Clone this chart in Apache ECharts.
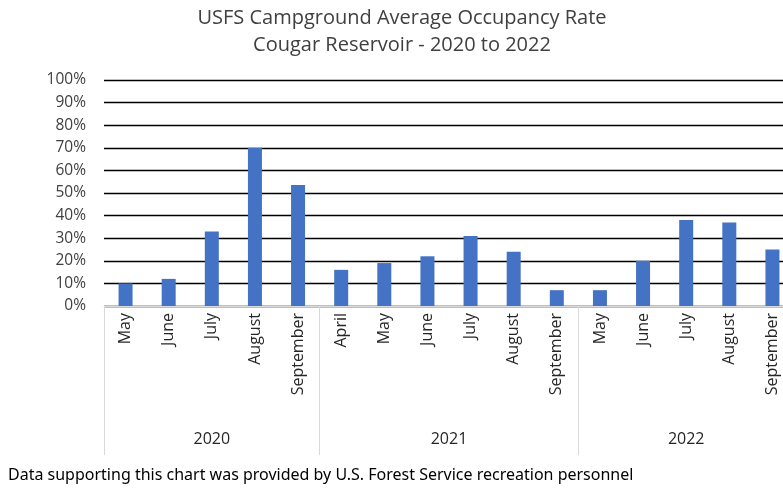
<!DOCTYPE html>
<html>
<head>
<meta charset="utf-8">
<script src="https://cdn.jsdelivr.net/npm/echarts@6/dist/echarts.min.js"></script>
<style>html,body{margin:0;padding:0;background:#fff;overflow:hidden}#c{width:800px;height:489px}</style>
</head>
<body>
<div id="c"></div>
<script>
const months = ['May','June','July','August','September','April','May','June','July','August','September','May','June','July','August','September'];
const occupancy = [10, 12, 33, 70, 53.5, 16, 19, 22, 31, 24, 7, 7, 20, 38, 37, 25];
const years = ['2020', '2021', '2022'];
const monthsPerYear = [5, 6, 5];
const yTicks = [0, 10, 20, 30, 40, 50, 60, 70, 80, 90, 100];

// Build half-step positions for the year-group axis
const total = monthsPerYear.reduce((a, b) => a + b, 0);
const halfSlots = [];
for (let i = 0; i <= total * 2; i++) halfSlots.push('');
const boundaryIdx = [0];
const centerIdx = [];
let acc = 0;
monthsPerYear.forEach((n, k) => {
  centerIdx.push(acc * 2 + n);
  halfSlots[acc * 2 + n] = years[k];
  acc += n;
  boundaryIdx.push(acc * 2);
});

const font = '"Open Sans", "Noto Sans", sans-serif';
const chart = echarts.init(document.getElementById('c'), null, {renderer: 'canvas'});
chart.setOption({
  animation: false,
  title: {
    text: 'USFS Campground Average Occupancy Rate\nCougar Reservoir - 2020 to 2022',
    left: 397, top: 0, textAlign: 'center',
    textStyle: {fontFamily: font, fontSize: 20, fontWeight: 'normal', color: '#404040', lineHeight: 27}
  },
  graphic: [{
    type: 'text', left: 8, top: 467,
    style: {text: 'Data supporting this chart was provided by U.S. Forest Service recreation personnel',
      fontFamily: '"Noto Sans", sans-serif', fontSize: 16, fill: '#000'}
  }],
  grid: {left: 104, top: 80, right: 6, height: 226, containLabel: false},
  yAxis: {
    type: 'value', min: 0, max: 100, interval: 10,
    axisLine: {show: false}, axisTick: {show: false},
    axisLabel: {formatter: v => yTicks.includes(v) ? v + '%' : '', fontFamily: font, fontSize: 15.5, color: '#404040', margin: 18},
    splitLine: {lineStyle: {color: '#000', width: 1.4}}
  },
  xAxis: [{
    type: 'category', data: months, position: 'bottom',
    axisLine: {lineStyle: {color: '#d9d9d9', width: 1}},
    axisTick: {show: false},
    axisLabel: {rotate: 90, interval: 0, fontFamily: font, fontSize: 16, color: '#262626', margin: 7}
  }, {
    type: 'category', data: halfSlots, position: 'bottom', boundaryGap: false,
    axisLine: {show: false},
    axisTick: {show: true, length: 149, interval: (i) => boundaryIdx.includes(i), lineStyle: {color: '#d9d9d9', width: 1}},
    axisLabel: {interval: (i) => centerIdx.includes(i), fontFamily: font, fontSize: 16, color: '#262626', margin: 125}
  }],
  series: [{
    type: 'bar', xAxisIndex: 0, data: occupancy, barWidth: 14,
    itemStyle: {color: '#4472c4'}
  }]
});
</script>
</body>
</html>
